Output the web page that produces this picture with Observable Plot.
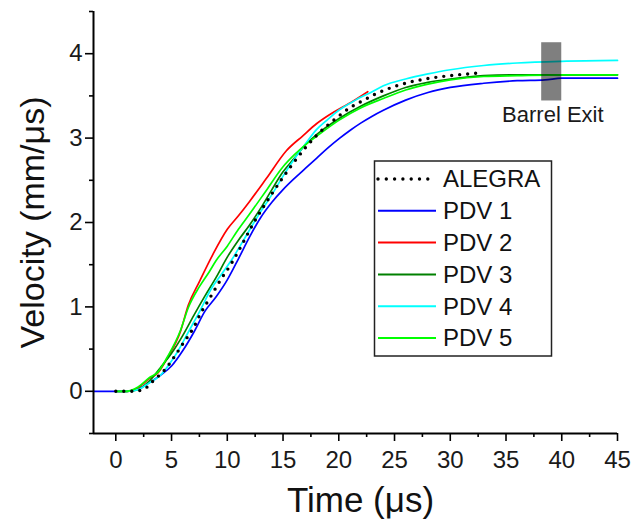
<!DOCTYPE html>
<html><head><meta charset="utf-8">
<script src="https://cdn.jsdelivr.net/npm/d3@7"></script>
<script src="https://cdn.jsdelivr.net/npm/@observablehq/plot@0.6"></script>
<style>
html,body{margin:0;padding:0;background:#fff;}
#wrap{position:relative;width:631px;height:521px;font-family:"Liberation Sans",Arial,sans-serif;}
</style></head><body><div id="wrap"></div>
<script>
// ---- data (time in µs, velocity in mm/µs) ----
const alegraT = [0,1.4,2.2,2.8,3.4,4.3,5.2,6.1,7,7.6,8.5,9.4,10.3,11,12.3,14.1,15.9,17.1,18,19.8,21,22.4,23.1,25.2,28.2,30,32.4];
const alegraV = [0,0,0.01,0.05,0.13,0.24,0.4,0.58,0.76,0.92,1.12,1.32,1.5,1.66,1.98,2.36,2.7,2.9,3.03,3.24,3.36,3.46,3.51,3.62,3.71,3.74,3.77];
const pdv1T = [-2,0,1,2,3,4,5,6,7,8,9,10,11,12,13,14,15,16,17,18,19,20,21,22,23,24,26,28,30,33,36,38.5,40,45];
const pdv1V = [0,0,0,0.03,0.1,0.19,0.3,0.48,0.7,0.95,1.12,1.32,1.57,1.83,2.06,2.24,2.39,2.52,2.64,2.76,2.88,2.99,3.09,3.18,3.26,3.33,3.45,3.54,3.6,3.65,3.68,3.69,3.71,3.71];
const pdv2T = [0,1,2,3,3.8,4.6,5.8,6.5,7.5,8.7,10,11,12,13.5,15.3,16.8,18,19.2,21.3,22.6];
const pdv2V = [0,0,0.04,0.15,0.22,0.39,0.71,1.02,1.3,1.62,1.92,2.08,2.25,2.52,2.85,3.03,3.17,3.28,3.44,3.55];
const pdv3T = [0,1,2,3,4,5,6,7,8,9,10,11,12,13,14,15,16,17,18,20,22,24,26,28,30,33,36,40,45];
const pdv3V = [0,0,0.02,0.12,0.28,0.45,0.66,0.9,1.13,1.35,1.59,1.79,1.97,2.17,2.39,2.6,2.76,2.92,3.04,3.23,3.38,3.5,3.6,3.66,3.7,3.74,3.75,3.75,3.75];
const pdv4T = [0,1,2,3,4,5,5.5,6.5,7.5,8.5,9.5,10.5,11.5,13,14,15,16,17,18,19,20,21.5,23,24,26,28,30,33,36,40,45];
const pdv4V = [0,0,0.02,0.1,0.19,0.36,0.46,0.7,0.94,1.2,1.39,1.58,1.8,2.13,2.33,2.55,2.75,2.93,3.1,3.22,3.33,3.45,3.55,3.62,3.7,3.76,3.81,3.86,3.89,3.91,3.92];
const pdv5T = [0,1,2,3,3.8,4.6,5.8,6.5,7.5,8.4,9,10,11,12,13.5,15,16,17,18,20,22,24,26,28,30,33,36,40,45];
const pdv5V = [0,0,0.05,0.16,0.23,0.4,0.72,0.99,1.24,1.42,1.55,1.72,1.92,2.1,2.38,2.66,2.8,2.92,3.02,3.21,3.36,3.47,3.57,3.64,3.69,3.73,3.74,3.75,3.75];

const seriesNames = ["ALEGRA","PDV 1","PDV 2","PDV 3","PDV 4","PDV 5"];
const seriesColors = ["#000000","#0000ff","#ff0000","#008000","#00ffff","#00ff00"];

const xTicks = [0,5,10,15,20,25,30,35,40,45];
const xMinor = [2.5,7.5,12.5,17.5,22.5,27.5,32.5,37.5,42.5];
const yTicks = [0,1,2,3,4];
const yMinor = [-0.5,0.5,1.5,2.5,3.5,4.5];

const barrelT = [38.2, 40.0];
const barrelV = [3.44, 4.13];
const barrelLabel = "Barrel Exit";
const barrelLabelPos = [39.2, 3.19];

const xLabel = "Time (\u03bcs)";
const yLabel = "Velocity (mm/\u03bcs)";

// ---- build tables ----
const rows = (t, v) => t.map((x, i) => ({t: x, v: v[i]}));
const pdvSeries = [[pdv1T,pdv1V],[pdv2T,pdv2V],[pdv3T,pdv3V],[pdv4T,pdv4V],[pdv5T,pdv5V]];

const font = '"Liberation Sans", Arial, sans-serif';

const marks = [];
pdvSeries.forEach(([t, v], i) => {
  marks.push(Plot.line(rows(t, v), {x: "t", y: "v", stroke: seriesColors[i + 1], strokeWidth: 1.7, curve: "monotone-x"}));
});
marks.push(Plot.line(rows(alegraT, alegraV), {x: "t", y: "v", stroke: seriesColors[0], strokeWidth: 3.4,
  strokeDasharray: "0 8", strokeLinecap: "round", curve: "monotone-x"}));
marks.push(Plot.rect([{x1: barrelT[0], x2: barrelT[1], y1: barrelV[0], y2: barrelV[1]}],
  {x1: "x1", x2: "x2", y1: "y1", y2: "y2", fill: "#000", fillOpacity: 0.5}));
marks.push(Plot.text([{x: barrelLabelPos[0], y: barrelLabelPos[1]}],
  {x: "x", y: "y", text: () => barrelLabel, fontSize: 22, fill: "#1a1a1a", textAnchor: "middle", lineAnchor: "bottom"}));
// axes
marks.push(Plot.axisX(xTicks, {tickSize: 8, tickPadding: 9, strokeWidth: 1.6, label: null, fontSize: 24, fill: "#1a1a1a", tickFormat: d => String(d)}));
marks.push(Plot.axisX(xMinor, {tickSize: 4, strokeWidth: 1.6, label: null, tickFormat: () => ""}));
marks.push(Plot.axisY(yTicks, {tickSize: 8, tickPadding: 3, strokeWidth: 1.6, label: null, fontSize: 24, fill: "#1a1a1a", tickFormat: d => String(d)}));
marks.push(Plot.axisY(yMinor, {tickSize: 4, strokeWidth: 1.6, label: null, tickFormat: () => ""}));
marks.push(Plot.ruleX([-2], {strokeWidth: 2}));
marks.push(Plot.ruleY([-0.5], {strokeWidth: 2}));
// axis titles
marks.push(Plot.text([0], {frameAnchor: "bottom", text: () => xLabel, fontSize: 35, fill: "#111",
  dy: 78, dx: 5, lineAnchor: "bottom", textAnchor: "middle"}));
marks.push(Plot.text([0], {frameAnchor: "left", text: () => yLabel, fontSize: 34, fill: "#111",
  rotate: -90, dx: -50, lineAnchor: "bottom", textAnchor: "middle"}));

const chart = Plot.plot({
  width: 631, height: 521,
  marginLeft: 93, marginRight: 14, marginTop: 11, marginBottom: 88,
  x: {domain: [-2, 45]},
  y: {domain: [-0.5, 4.5]},
  style: {fontFamily: font, fontSize: "24px", background: "#fff", color: "#000", overflow: "visible"},
  marks
});
const wrap = document.getElementById("wrap");
wrap.appendChild(chart);

// ---- legend overlay ----
const leg = d3.select(wrap).append("svg").attr("id", "legend")
  .attr("width", 631).attr("height", 521).style("position", "absolute").style("left", "0").style("top", "0")
  .style("font-family", font);
leg.append("rect").attr("x", 374.5).attr("y", 161).attr("width", 177).attr("height", 195)
  .attr("fill", "#fff").attr("stroke", "#222").attr("stroke-width", 1.5);
const legY0 = 179, legStep = 31.8;
seriesNames.forEach((name, i) => {
  const cy = legY0 + i * legStep;
  const ln = leg.append("line").attr("x1", 378).attr("x2", 436).attr("y1", cy).attr("y2", cy)
    .attr("stroke", seriesColors[i]);
  if (i === 0) ln.attr("stroke-width", 3.4).attr("stroke-dasharray", "0 8.3").attr("stroke-linecap", "round");
  else ln.attr("stroke-width", 2);
  leg.append("text").attr("x", 443).attr("y", cy + 8.4).attr("font-size", 24).attr("fill", "#111").text(name);
});
</script></body></html>
